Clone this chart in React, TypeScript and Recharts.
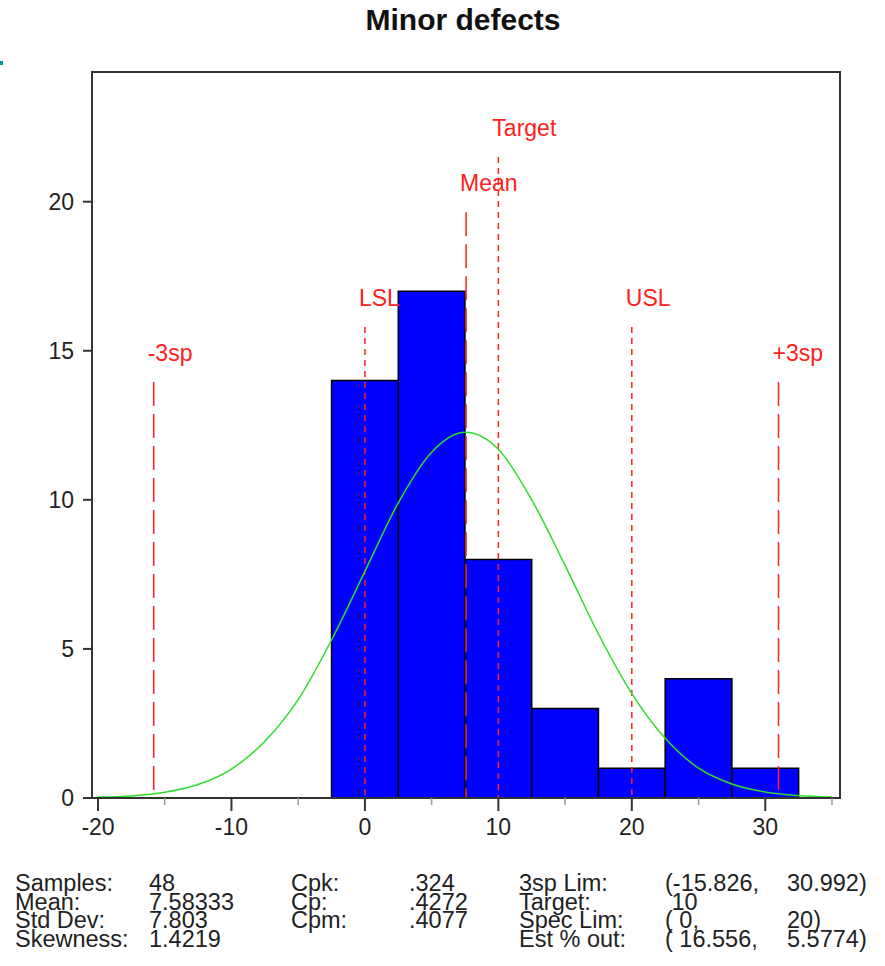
import React from "react";
import { ComposedChart, Line, XAxis, YAxis, ReferenceArea, ReferenceLine } from "recharts";

const FONT = '"Liberation Sans", Arial, sans-serif';

// histogram bins (left edge) and counts
const binStarts = [-2.5, 2.5, 7.5, 12.5, 17.5, 22.5, 27.5];
const binCounts = [14, 17, 8, 3, 1, 4, 1];
const BIN_WIDTH = 5;

// fitted normal curve
const curveX = [-20, -17.5, -15, -12.5, -10, -7.5, -5, -2.5, 0, 2.5, 5, 7.5, 10, 12.5, 15, 17.5, 20, 22.5, 25, 27.5, 30, 32.5, 35];
const curveY = [0.03, 0.07, 0.19, 0.45, 0.97, 1.9, 3.3, 5.3, 7.6, 9.9, 11.6, 12.27, 11.7, 10.0, 7.8, 5.5, 3.5, 2.0, 1.0, 0.47, 0.2, 0.08, 0.03];

const xTicks = [-20, -15, -10, -5, 0, 5, 10, 15, 20, 25, 30, 35];
const yTicks = [0, 5, 10, 15, 20];

// vertical markers
const markerNames = ["-3sp", "LSL", "Mean", "Target", "USL", "+3sp"];
const markerValues = [-15.826, 0, 7.58333, 10, 20, 30.992];
const markerTops = [13.95, 15.8, 19.65, 21.5, 15.8, 13.95];
const markerDash = ["24 8", "6 5", "24 8", "6 5", "6 5", "24 8"];

// summary statistics below the plot
const statLabels1 = ["Samples:", "Mean:", "Std Dev:", "Skewness:"];
const statValues1 = ["48", "7.58333", "7.803", "1.4219"];
const statLabels2 = ["Cpk:", "Cp:", "Cpm:"];
const statValues2 = [".324", ".4272", ".4077"];
const statLabels3 = ["3sp Lim:", "Target:", "Spec Lim:", "Est % out:"];
const statValues3a = ["(-15.826,", " 10", "( 0,", "( 16.556,"];
const statValues3b = ["30.992)", "", "20)", "5.5774)"];

const X_DOMAIN: [number, number] = [-20.45, 35.6];
const Y_DOMAIN: [number, number] = [0, 24.35];

const curveData = curveX.map((x, i) => ({ x, y: curveY[i] }));

function XTick(props: any) {
  const { x, y, payload } = props;
  const major = payload.value % 10 === 0;
  return (
    <g>
      <line
        x1={x}
        x2={x}
        y1={y}
        y2={y + (major ? 13 : 7)}
        stroke={major ? "#333" : "#999"}
        strokeWidth={major ? 2 : 1.5}
      />
      {major && (
        <text x={x} y={y + 37} textAnchor="middle" fontSize={23} fontFamily={FONT} fill="#222">
          {payload.value}
        </text>
      )}
    </g>
  );
}

const markerLabel = (text: string) => (props: any) => {
  const vb = props.viewBox;
  return (
    <text x={vb.x - 6} y={vb.y - 21} fontSize={23} fontFamily={FONT} fill="#ff2020">
      {text}
    </text>
  );
};

export default function App() {
  const rowY = (i: number) => 891 + i * 18.7;
  const statText = (x: number, y: number, s: string, key: string) => (
    <text key={key} x={x} y={y} fontSize={23.5} fontFamily={FONT} fill="#222" style={{ whiteSpace: "pre" }}>
      {s}
    </text>
  );
  return (
    <div style={{ position: "absolute", left: 0, top: 0, width: 885, height: 966, background: "#fff" }}>
      <div style={{ position: "absolute", left: 0, top: 61, width: 3, height: 4, background: "#009c9c" }} />
      <ComposedChart
        width={885}
        height={966}
        data={curveData}
        margin={{ top: 72, right: 45, bottom: 118, left: 32 }}
      >
        <XAxis
          dataKey="x"
          type="number"
          domain={X_DOMAIN}
          allowDataOverflow
          ticks={xTicks}
          interval={0}
          height={50}
          tickSize={0}
          tickMargin={0}
          tickLine={false}
          axisLine={{ stroke: "#333", strokeWidth: 2 }}
          tick={XTick}
        />
        <YAxis
          type="number"
          domain={Y_DOMAIN}
          allowDataOverflow
          ticks={yTicks}
          interval={0}
          width={60}
          tickSize={9}
          tickMargin={9}
          tickLine={{ stroke: "#333", strokeWidth: 2 }}
          axisLine={{ stroke: "#333", strokeWidth: 2 }}
          tick={{ fontSize: 23, fill: "#222", fontFamily: FONT }}
        />
        <ReferenceArea
          x1={X_DOMAIN[0]}
          x2={X_DOMAIN[1]}
          y1={Y_DOMAIN[0]}
          y2={Y_DOMAIN[1]}
          fill="none"
          stroke="#333"
          strokeWidth={2}
          ifOverflow="visible"
        />
        {binStarts.map((b, i) => (
          <ReferenceArea
            key={"bin" + i}
            x1={b}
            x2={b + BIN_WIDTH}
            y1={0}
            y2={binCounts[i]}
            fill="#0000ff"
            fillOpacity={1}
            stroke="#000"
            strokeWidth={1.5}
          />
        ))}
        {markerValues.map((v, i) => (
          <ReferenceLine
            key={"m" + i}
            segment={[
              { x: v, y: markerTops[i] },
              { x: v, y: 0 },
            ]}
            stroke="#ff2020"
            strokeWidth={1.5}
            strokeDasharray={markerDash[i]}
            label={markerLabel(markerNames[i])}
          />
        ))}
        <Line
          dataKey="y"
          type="monotone"
          stroke="#2edc2e"
          strokeWidth={1.5}
          dot={false}
          activeDot={false}
          isAnimationActive={false}
        />
      </ComposedChart>
      <div
        style={{
          position: "absolute",
          left: 0,
          width: 926,
          top: 3,
          textAlign: "center",
          fontFamily: FONT,
          fontWeight: "bold",
          fontSize: 30,
          color: "#111",
        }}
      >
        Minor defects
      </div>
      <svg width={885} height={966} style={{ position: "absolute", left: 0, top: 0, pointerEvents: "none" }}>
        {statLabels1.map((s, i) => statText(15, rowY(i), s, "l1" + i))}
        {statValues1.map((s, i) => statText(149, rowY(i), s, "v1" + i))}
        {statLabels2.map((s, i) => statText(291, rowY(i), s, "l2" + i))}
        {statValues2.map((s, i) => statText(409, rowY(i), s, "v2" + i))}
        {statLabels3.map((s, i) => statText(519, rowY(i), s, "l3" + i))}
        {statValues3a.map((s, i) => statText(665, rowY(i), s, "a3" + i))}
        {statValues3b.map((s, i) => statText(787, rowY(i), s, "b3" + i))}
      </svg>
    </div>
  );
}
